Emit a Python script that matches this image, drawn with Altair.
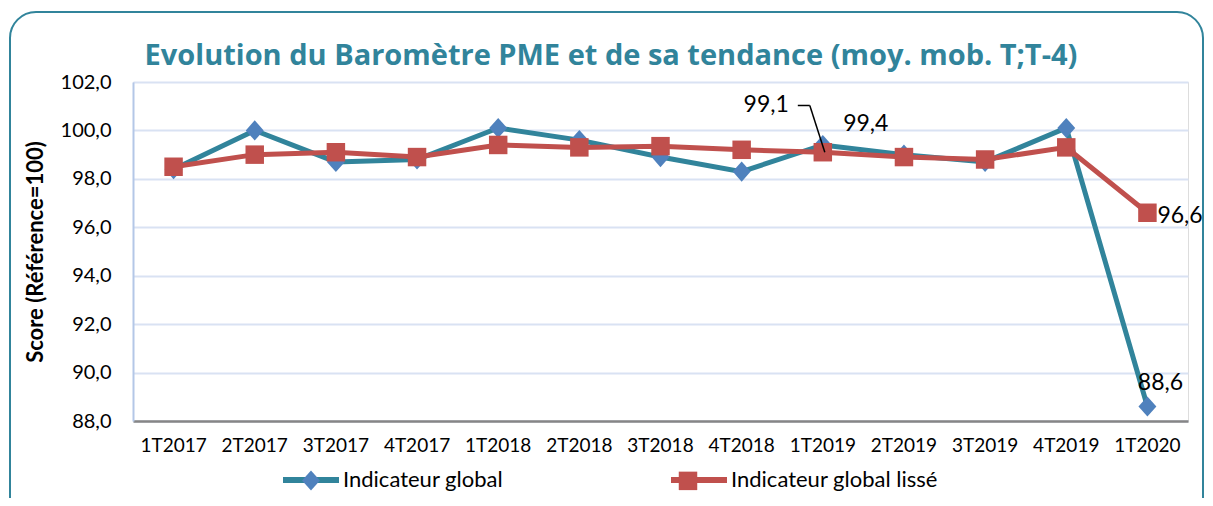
import altair as alt
import pandas as pd

quarters = ["1T2017", "2T2017", "3T2017", "4T2017", "1T2018", "2T2018", "3T2018",
            "4T2018", "1T2019", "2T2019", "3T2019", "4T2019", "1T2020"]
global_vals = [98.4, 100.0, 98.7, 98.8, 100.1, 99.6, 98.9, 98.3, 99.4, 99.0, 98.7, 100.1, 88.6]
smooth_vals = [98.5, 99.0, 99.1, 98.9, 99.4, 99.3, 99.35, 99.2, 99.1, 98.9, 98.8, 99.3, 96.6]
series_names = ["Indicateur global", "Indicateur global lissé"]
marker_keys = ["global_m", "lisse_m"]
y_ticks = [88, 90, 92, 94, 96, 98, 100, 102]
title_text = "Evolution du Baromètre PME et de sa tendance (moy. mob. T;T-4)"

# annotations: quarter, value, text
ann_q = ["1T2019", "1T2019", "1T2020", "1T2020"]
ann_v = [101.03, 99.4, 96.6, 88.6]
ann_t = ["99,1", "99,4", "96,6", "88,6"]

TEAL = "#31849B"
BLUE = "#4F81BD"
RED = "#C0504D"
FONT = "Lato"

rows = []
for q, g, s in zip(quarters, global_vals, smooth_vals):
    rows.append({"quarter": q, "value": g, "series": series_names[0], "mkey": marker_keys[0]})
    rows.append({"quarter": q, "value": s, "series": series_names[1], "mkey": marker_keys[1]})
df = pd.DataFrame(rows)

ann = pd.DataFrame({"quarter": ann_q, "value": ann_v, "label": ann_t})
lead = pd.DataFrame({"quarter": ["1T2019"], "value": [smooth_vals[8]], "value2": [ann_v[0]]})

W, H = 1055, 339
PL, PR, PT, PB = 125, 17, 74, 77
YSCALE = alt.Scale(domain=[88, 102], nice=False, zero=False)

x_enc = alt.X("quarter:N", sort=quarters, title=None,
              axis=alt.Axis(labelAngle=0, labelFontSize=19, labelFont=FONT, labelColor="black",
                            labelPadding=15, ticks=False, domainColor="#868686", domainWidth=2.5,
                            grid=False))
y_axis = alt.Axis(values=y_ticks, labelExpr="replace(format(datum.value, '.1f'), '.', ',')",
                  labelFontSize=20, labelFont=FONT, labelColor="black", labelPadding=22,
                  ticks=False, domainColor="#B4C7E7", domainWidth=2, gridColor="#D9E2F3",
                  gridWidth=2, title="Score (Référence=100)", titleFont=FONT, titleFontSize=22,
                  titleFontWeight="bold", titleColor="black", titlePadding=13)
y_enc = alt.Y("value:Q", scale=YSCALE, axis=y_axis)

MSIZE = 3136
diamond_path = "M0,-0.36L0.32,0L0,0.36L-0.32,0Z"
square_path = "M-0.33,-0.33L0.33,-0.33L0.33,0.33L-0.33,0.33Z"

LX, LY = 147, 367
common_leg = dict(orient="none", legendX=LX, legendY=LY, direction="horizontal", title=None,
                  labelFontSize=22, labelFont=FONT, labelColor="black", symbolSize=MSIZE,
                  labelOffset=1, symbolStrokeWidth=6, labelLimit=500)

# visible legend: line segments + labels
color_enc = alt.Color("series:N", scale=alt.Scale(domain=series_names, range=[TEAL, RED]),
                      legend=alt.Legend(**common_leg, columnPadding=155, zindex=0,
                                        symbolType="M-1,0L1,0"))
# marker-only legend drawn over the line segments (no label text)
leg2 = alt.Legend(**common_leg, columnPadding=314, zindex=1, symbolStrokeColor="transparent",
                  labelExpr="''")
fill_enc = alt.Fill("mkey:N", scale=alt.Scale(domain=marker_keys, range=[BLUE, RED]), legend=leg2)
shape_enc = alt.Shape("mkey:N", scale=alt.Scale(domain=marker_keys, range=[diamond_path, square_path]),
                      legend=leg2)

base = alt.Chart(df)
line1 = base.transform_filter(alt.datum.series == series_names[0]).mark_line(strokeWidth=5).encode(
    x=x_enc, y=y_enc, color=color_enc)
pts1 = base.transform_filter(alt.datum.series == series_names[0]).mark_point(
    filled=True, size=MSIZE, opacity=1, strokeWidth=0).encode(x=x_enc, y=y_enc, fill=fill_enc, shape=shape_enc)
line2 = base.transform_filter(alt.datum.series == series_names[1]).mark_line(strokeWidth=5).encode(
    x=x_enc, y=y_enc, color=color_enc)
pts2 = base.transform_filter(alt.datum.series == series_names[1]).mark_point(
    filled=True, size=MSIZE, opacity=1, strokeWidth=0).encode(x=x_enc, y=y_enc, fill=fill_enc, shape=shape_enc)

annb = alt.Chart(ann)
txt_style = dict(fontSize=23, font=FONT, color="black", baseline="middle")
t1 = annb.transform_filter(alt.datum.label == ann_t[0]).mark_text(align="right", dx=-34, **txt_style).encode(
    x=x_enc, y=y_enc, text="label:N")
t2 = annb.transform_filter(alt.datum.label == ann_t[1]).mark_text(align="center", dx=43, dy=-21, **txt_style).encode(
    x=x_enc, y=y_enc, text="label:N")
t3 = annb.transform_filter(alt.datum.label == ann_t[2]).mark_text(align="left", dx=10, dy=3, **txt_style).encode(
    x=x_enc, y=y_enc, text="label:N")
t4 = annb.transform_filter(alt.datum.label == ann_t[3]).mark_text(align="center", dx=13, dy=-23, **txt_style).encode(
    x=x_enc, y=y_enc, text="label:N")

leadb = alt.Chart(lead)
lead_diag = leadb.mark_rule(color="black", strokeWidth=1.5, xOffset=2, x2Offset=-13).encode(
    x=x_enc, x2="quarter:N", y=y_enc, y2="value2:Q")
lead_h = leadb.mark_rule(color="black", strokeWidth=1.5, xOffset=-25, x2Offset=-13).encode(
    x=x_enc, x2="quarter:N", y=alt.Y("value2:Q", scale=YSCALE, axis=y_axis))

single = alt.Chart(pd.DataFrame({"k": [0]}))
frame = single.mark_rect(fillOpacity=0, stroke=TEAL, strokeWidth=2, cornerRadius=26).encode(
    x=alt.value(-123), x2=alt.value(W + PR - 2), y=alt.value(-70), y2=alt.value(H + 120))
title = single.mark_text(fontSize=29, font="Open Sans", fontWeight="bold", color=TEAL,
                         align="center", baseline="alphabetic").encode(
    x=alt.value(478), y=alt.value(-17), text=alt.value(title_text))

chart = alt.layer(frame, title, line1, pts1, line2, pts2, lead_diag, lead_h, t1, t2, t3, t4).properties(
    width=W, height=H,
    autosize=alt.AutoSizeParams(type="none"),
    padding={"left": PL, "right": PR, "top": PT, "bottom": PB},
).configure_view(stroke=None).configure(background="white")

chart.save("out.html", embed_options={"renderer": "svg", "actions": False})
